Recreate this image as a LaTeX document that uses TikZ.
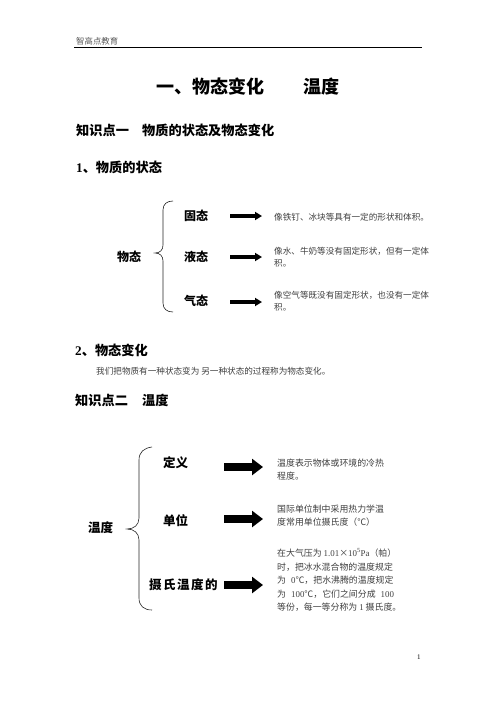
\documentclass[tikz,border=0pt]{standalone}
\usepackage{fontspec}
\newfontfamily\cjk{Noto Sans CJK SC}
\newfontfamily\tnr{Liberation Serif}
\usetikzlibrary{arrows.meta}
\begin{document}
\begin{tikzpicture}[x=1pt,y=-1pt,
  every node/.style={inner sep=0pt,anchor=west,text height=0.8em,text depth=0.2em},
  hdr/.style={font=\cjk\fontsize{8.4}{10}\selectfont,text=black!65},
  ttl/.style={font=\cjk\bfseries\fontsize{18}{20}\selectfont},
  sec/.style={font=\cjk\bfseries\fontsize{13.2}{15}\selectfont},
  lab/.style={font=\cjk\bfseries\fontsize{12}{14}\selectfont},
  labb/.style={font=\cjk\bfseries\fontsize{12.5}{14}\selectfont},
  dsc/.style={font=\cjk\fontsize{8.6}{10}\selectfont,text=black!75},
  dscb/.style={font=\cjk\fontsize{8.9}{10}\selectfont,text=black!75},
  arrA/.style={line width=4pt,-{Triangle[length=7pt,width=8pt]}},
  arrB/.style={line width=8pt,-{Triangle[length=11pt,width=16pt]}},
  brc/.style={line width=0.6pt,black!85}]
\useasboundingbox (0,0) rectangle (496,702);
\fill[white] (0,0) rectangle (496,702);
% header
\node[hdr] (head) at (76,41) {智高点教育};
\coordinate (hl) at (74,47.5); \coordinate (hr) at (422,47.5);
\draw[line width=0.8pt] (hl) -- (hr);
% title
\node[ttl] (t1) at (156,90) {一、物态变化};
\node[ttl] (t2) at (303,90) {温度};
\node[sec] (k1) at (76,132) {知识点一};
\node[sec] (k1b) at (142,132) {物质的状态及物态变化};
\node[sec] (s1) at (76,169) {{\tnr\bfseries 1}、物质的状态};
% diagram 1
\node[lab] (wt) at (117,258) {物态};
\node[lab] (gt) at (184,217) {固态};
\node[lab] (yt) at (184,258) {液态};
\node[lab] (qt) at (184,302) {气态};
\draw[brc] (173,201) .. controls (167,201) and (163,204) .. (163,210) -- (163,245)
  .. controls (163,250) and (160,253) .. (155,253)
  .. controls (160,253) and (163,256) .. (163,261) -- (163,303)
  .. controls (163,309) and (167,312) .. (173,312);
\coordinate (a1s) at (230,216); \coordinate (a1e) at (262,216);
\coordinate (a2s) at (230,257); \coordinate (a2e) at (262,257);
\coordinate (a3s) at (230,302); \coordinate (a3e) at (262,302);
\draw[arrA] (a1s) -- (a1e);
\draw[arrA] (a2s) -- (a2e);
\draw[arrA] (a3s) -- (a3e);
\node[dsc] (d1) at (274,217) {像铁钉、冰块等具有一定的形状和体积。};
\node[dsc] (d2a) at (274,251) {像水、牛奶等没有固定形状，但有一定体};
\node[dsc] (d2b) at (274,263) {积。};
\node[dsc] (d3a) at (274,295) {像空气等既没有固定形状，也没有一定体};
\node[dsc] (d3b) at (274,307) {积。};
% section 2
\node[sec] (s2) at (75,352) {{\tnr\bfseries 2}、物态变化};
\node[dsc] (s2t) at (96,371) {我们把物质有一种状态变为\kern2pt 另一种状态的过程称为物态变化。};
\node[sec] (k2) at (75,402) {知识点二};
\node[sec] (k2b) at (142,402) {温度};
% diagram 2
\node[labb] (wd) at (88,529) {温度};
\node[labb] (dy) at (163,464) {定义};
\node[labb] (dw) at (163,522) {单位};
\node[labb] (ss) at (149,586) {摄\kern1.5pt 氏\kern1.5pt 温\kern1.5pt 度\kern1.5pt 的};
\draw[brc] (152,447) .. controls (144,448) and (139,452) .. (139,460) -- (139,518)
  .. controls (139,525) and (134,529) .. (127,529)
  .. controls (134,529) and (139,533) .. (139,540) -- (139,598)
  .. controls (139,606) and (144,610) .. (152,610);
\coordinate (b1s) at (224,467); \coordinate (b1e) at (263,467);
\coordinate (b2s) at (224,519); \coordinate (b2e) at (263,519);
\coordinate (b3s) at (224,585); \coordinate (b3e) at (263,585);
\draw[arrB] (b1s) -- (b1e);
\draw[arrB] (b2s) -- (b2e);
\draw[arrB] (b3s) -- (b3e);
\node[dscb] (e1a) at (277,463) {温度表示物体或环境的冷热};
\node[dscb] (e1b) at (277,476) {程度。};
\node[dscb] (e2a) at (277,509) {国际单位制中采用热力学温};
\node[dscb] (e2b) at (277,522) {度常用单位摄氏度（℃）};
\node[dscb] (e3a) at (277,553) {在大气压为 {\tnr 1.01}×{\tnr 10\textsuperscript{5}Pa}（帕）};
\node[dscb] (e3b) at (277,567) {时，把冰水混合物的温度规定};
\node[dscb] (e3c) at (277,580) {为\kern5pt{\tnr 0}℃，把水沸腾的温度规定};
\node[dscb] (e3d) at (277,594) {为\kern5pt{\tnr 100}℃，它们之间分成\kern5pt{\tnr 100}};
\node[dscb] (e3e) at (277,607) {等份，每一等分称为 {\tnr 1} 摄氏度。};
% page number
\node[font=\tnr\fontsize{7}{8}\selectfont] (pg) at (417,656) {1};
\end{tikzpicture}
\end{document}
